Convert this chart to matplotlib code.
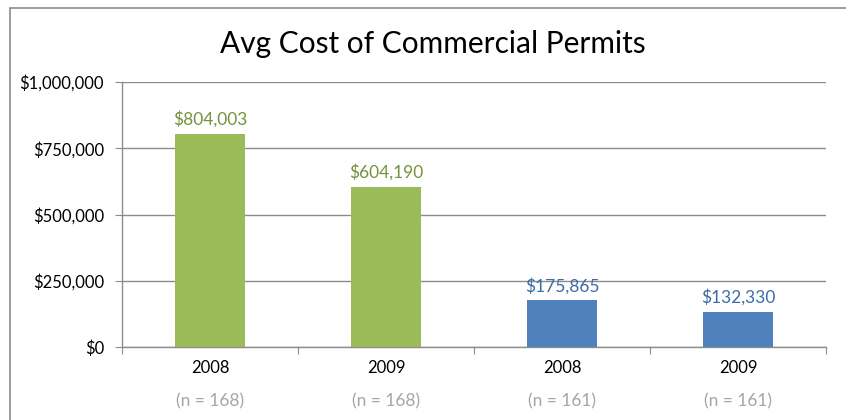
import matplotlib.pyplot as plt
from matplotlib.patches import Rectangle
from matplotlib.ticker import FuncFormatter

plt.rcParams['font.family'] = ['Lato', 'DejaVu Sans']

years = ['2008', '2009', '2008', '2009']
counts = [168, 168, 161, 161]
avg_cost = [804003, 604190, 175865, 132330]
bar_colors = ['#9BBB59', '#9BBB59', '#4F81BD', '#4F81BD']
label_colors = ['#76923C', '#76923C', '#3C6CA6', '#3C6CA6']

fig = plt.figure(figsize=(8.46, 4.2), dpi=100)
W, H = 846, 420

# outer chart frame (runs off right/bottom edges)
fig.patches.append(Rectangle((10 / W, -0.1), 1.0, 1 - 8 / H + 0.1,
                             transform=fig.transFigure, fill=False,
                             edgecolor='#8C8C8C', linewidth=1.2))

ax = fig.add_axes([122 / W, 1 - 347 / H, (826 - 122) / W, (347 - 82) / H])

x = range(len(avg_cost))
ax.bar(x, avg_cost, width=0.4, color=bar_colors, zorder=3)
for i, v in enumerate(avg_cost):
    ax.text(i, v + 22000, '${:,}'.format(v), ha='center', va='bottom',
            fontsize=12.5, color=label_colors[i])

ax.set_xlim(-0.5, len(avg_cost) - 0.5)
ax.set_ylim(0, 1000000)
ax.set_yticks([0, 250000, 500000, 750000, 1000000])
ax.yaxis.set_major_formatter(FuncFormatter(lambda v, p: '${:,.0f}'.format(v)))
ax.grid(axis='y', color='#8C8C8C', linewidth=1, zorder=0)

ax.set_xticks([-0.5, 0.5, 1.5, 2.5, 3.5])
ax.set_xticklabels([])
ax.tick_params(axis='x', length=5, color='#8C8C8C', direction='out')
ax.tick_params(axis='y', length=5, color='#8C8C8C', direction='out',
               labelsize=12, labelcolor='black', pad=8)

for s in ['top', 'right']:
    ax.spines[s].set_visible(False)
for s in ['left', 'bottom']:
    ax.spines[s].set_color('#8C8C8C')
    ax.spines[s].set_linewidth(1)

for i, (yr, n) in enumerate(zip(years, counts)):
    ax.text(i, -0.08, yr, transform=ax.get_xaxis_transform(), ha='center',
            va='center', fontsize=12, color='black')
    ax.text(i, -0.205, '(n = {})'.format(n), transform=ax.get_xaxis_transform(),
            ha='center', va='center', fontsize=12.5, color='#A6A6A6')

fig.text(433 / W, 1 - 44 / H, 'Avg Cost of Commercial Permits', ha='center',
         va='center', fontsize=21.5, color='black')

fig.savefig('out.png', dpi=100, facecolor='white')
